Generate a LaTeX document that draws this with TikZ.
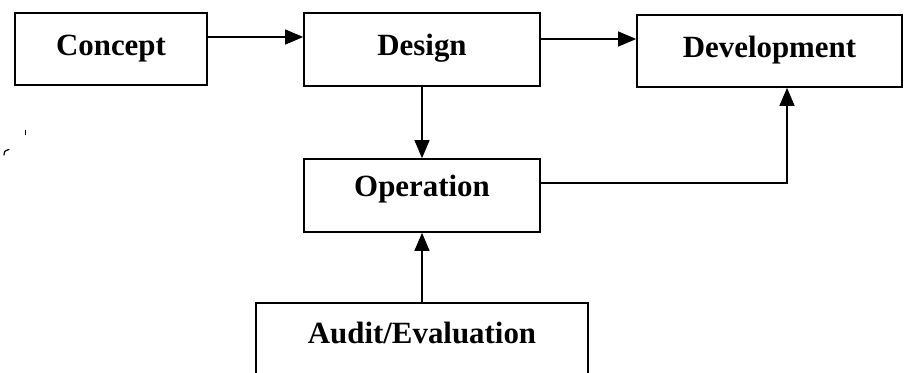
\documentclass[tikz,border=0pt]{standalone}
\usepackage{fontspec}
\setmainfont{Liberation Serif}
\usetikzlibrary{arrows.meta}
\begin{document}
\begin{tikzpicture}[x=1bp,y=1bp,
  stagebox/.style={draw=black,line width=1.7bp,fill=white,inner sep=0pt,
    font=\fontsize{31}{36}\selectfont\bfseries,
    text height=22bp,text depth=10bp},
  flow/.style={draw=black,line width=1.3bp,
    -{Triangle[length=18bp,width=15bp]}}]
\useasboundingbox (0,0) rectangle (904,-372);
\clip (0,0) rectangle (904,-372);
\fill[white] (0,0) rectangle (904,-372);

% stages of the life cycle
\node[stagebox,minimum width=192bp,minimum height=72bp] (concept) at (111,-49) {Concept};
\node[stagebox,minimum width=236bp,minimum height=73bp] (design) at (422,-49.5) {Design};
\node[stagebox,minimum width=265bp,minimum height=72bp] (development) at (769.5,-51) {Development};
\node[stagebox,minimum width=236bp,minimum height=73bp,
      text height=17bp,text depth=15bp] (operation) at (422,-195.5) {Operation};
\node[stagebox,minimum width=332bp,anchor=north,
      text height=41bp,text depth=60bp] (audit) at (422,-302) {Audit/Evaluation};

% flows between stages
\draw[flow] ([yshift=12bp]concept.east) -- ([yshift=12bp]concept.east -| design.west);
\draw[flow] ([yshift=10.5bp]design.east) -- ([yshift=10.5bp]design.east -| development.west);
\draw[flow] (design.south) -- (operation.north);
\draw[flow] ([yshift=12.5bp]operation.east) -| ([xshift=17.5bp]development.south);
\draw[flow] (audit.north) -- (operation.south);

% small specks at the left margin
\fill[black] (24.5,-130) rectangle (26,-134.5);
\draw[black,line width=1.2bp,line cap=round] (4,-155) .. controls (4.5,-151) .. (9,-149.5);
\end{tikzpicture}
\end{document}
